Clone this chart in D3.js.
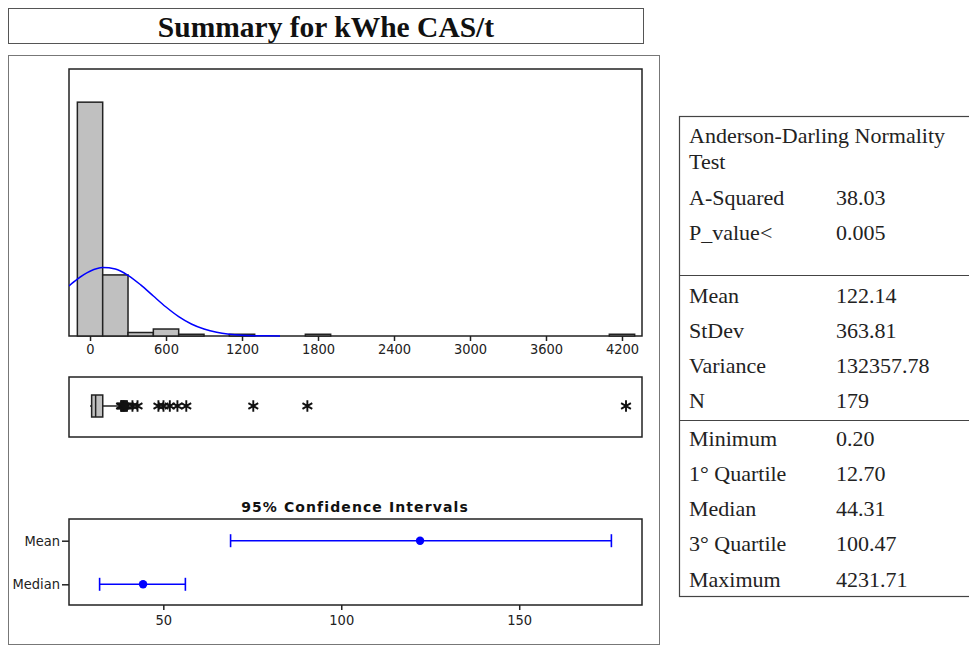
<!DOCTYPE html>
<html>
<head>
<meta charset="utf-8">
<script src="https://cdn.jsdelivr.net/npm/d3@7"></script>
<style>
  body { margin: 0; background: #fff; }
  svg { display: block; }
  .axis .tick text { font-family: 'DejaVu Sans Condensed', 'DejaVu Sans', sans-serif; font-stretch: condensed; font-size: 14.5px; fill: #222; }
  .axis .tick line { stroke: #222; stroke-width: 1.5; }
  .stats text { font-family: 'Liberation Serif', 'Times New Roman', serif; font-size: 22px; fill: #222; }
</style>
</head>
<body>
<div class="graph"></div>
<script>
// histogram: bin midpoints and counts (bin width 200)
const binMids = [0, 200, 400, 600, 800, 1000, 1200, 1400, 1600, 1800, 2000, 2200,
  2400, 2600, 2800, 3000, 3200, 3400, 3600, 3800, 4000, 4200];
const binCounts = [134, 35, 2, 4, 1, 0, 1, 0, 0, 1, 0, 0,
  0, 0, 0, 0, 0, 0, 0, 0, 0, 1];
const binWidth = 200;
const histTicks = [0, 600, 1200, 1800, 2400, 3000, 3600, 4200];

// fitted normal curve (value, count)
const fitX = [-166, -100, 0, 100, 200, 300, 400, 500, 600, 700, 800, 900, 1000, 1100, 1200, 1300, 1400, 1500];
const fitCount = [28.7, 32.6, 37.1, 39.2, 38.4, 34.8, 29.3, 22.9, 16.6, 11.1, 6.9, 4.0, 2.1, 1.06, 0.49, 0.21, 0.08, 0.03];

// boxplot: min, Q1, median, Q3, upper whisker; then outliers
const boxFive = [0.20, 12.70, 44.31, 100.47, 230];
const outliers = [245, 250, 256, 262, 268, 275, 283, 292, 335, 375,
  540, 580, 630, 690, 760, 1289, 1716, 4231.71];

// 95% confidence intervals
const ciLabels = ['Mean', 'Median'];
const ciLow = [68.9, 32.1];
const ciEst = [122.14, 44.31];
const ciHigh = [175.9, 56.2];
const ciTicks = [50, 100, 150];

// statistics table
const adLabels = ['A-Squared', 'P_value<'];
const adValues = ['38.03', '0.005'];
const momentLabels = ['Mean', 'StDev', 'Variance', 'N'];
const momentValues = ['122.14', '363.81', '132357.78', '179'];
const quantLabels = ['Minimum', '1° Quartile', 'Median', '3° Quartile', 'Maximum'];
const quantValues = ['0.20', '12.70', '44.31', '100.47', '4231.71'];

function drawSummary() {
  const w = 969;
  const h = 646;
  const hist = { left: 69, right: 642, top: 69, bottom: 336 };
  const box = { top: 377, bottom: 437, mid: 406, half: 11 };
  const ci = { top: 519, bottom: 605 };

  const svg = d3.select('.graph')
    .append('svg')
    .attr('width', w)
    .attr('height', h);

  // title box
  svg.append('rect')
    .attr('x', 8.5).attr('y', 8.5)
    .attr('width', 635).attr('height', 35)
    .attr('fill', 'none')
    .attr('stroke', '#555');

  svg.append('text')
    .attr('x', 326)
    .attr('y', 37)
    .attr('text-anchor', 'middle')
    .style('font-family', "'Liberation Serif', 'Times New Roman', serif")
    .style('font-weight', 'bold')
    .style('font-size', '29.5px')
    .style('fill', '#111')
    .text('Summary for kWhe CAS/t');

  // outer panel
  svg.append('rect')
    .attr('x', 8.5).attr('y', 55.5)
    .attr('width', 651).attr('height', 589)
    .attr('fill', 'none')
    .attr('stroke', '#777');

  // ---- histogram ----
  const xScale = d3.scaleLinear()
    .domain([-166, 4358])
    .range([hist.left, hist.right]);
  const yScale = d3.scaleLinear()
    .domain([0, 153])
    .range([hist.bottom, hist.top]);

  svg.append('defs')
    .append('clipPath')
    .attr('id', 'hist-clip')
    .append('rect')
    .attr('x', hist.left).attr('y', hist.top)
    .attr('width', hist.right - hist.left)
    .attr('height', hist.bottom - hist.top + 1);

  svg.append('g')
    .attr('class', 'axis')
    .attr('transform', `translate(0, ${hist.bottom})`)
    .call(d3.axisBottom(xScale)
      .tickValues(histTicks)
      .tickFormat(d3.format('d'))
      .tickSize(5)
      .tickPadding(3))
    .call((g) => g.select('.domain').remove());

  svg.append('rect')
    .attr('x', hist.left).attr('y', hist.top)
    .attr('width', hist.right - hist.left)
    .attr('height', hist.bottom - hist.top)
    .attr('fill', 'none')
    .attr('stroke', '#222')
    .attr('stroke-width', 1.5);

  const bins = binMids.map((m, i) => ({ mid: m, count: binCounts[i] }))
    .filter((d) => d.count > 0);

  svg.selectAll('rect.bar')
    .data(bins)
    .enter()
    .append('rect')
    .attr('class', 'bar')
    .attr('x', (d) => xScale(d.mid - binWidth / 2))
    .attr('width', (d) => xScale(d.mid + binWidth / 2) - xScale(d.mid - binWidth / 2))
    .attr('y', (d) => yScale(d.count))
    .attr('height', (d) => yScale(0) - yScale(d.count))
    .attr('fill', '#c0c0c0')
    .attr('stroke', '#222')
    .attr('stroke-width', 1.5);

  const line = d3.line()
    .x((d) => xScale(d[0]))
    .y((d) => yScale(d[1]))
    .curve(d3.curveMonotoneX);

  svg.append('path')
    .datum(fitX.map((v, i) => [v, fitCount[i]]))
    .attr('clip-path', 'url(#hist-clip)')
    .attr('d', line)
    .attr('fill', 'none')
    .attr('stroke', '#0000ff')
    .attr('stroke-width', 1.5);

  // ---- boxplot ----
  svg.append('rect')
    .attr('x', hist.left).attr('y', box.top)
    .attr('width', hist.right - hist.left)
    .attr('height', box.bottom - box.top)
    .attr('fill', 'none')
    .attr('stroke', '#222')
    .attr('stroke-width', 1.5);

  const [bMin, bQ1, bMed, bQ3, bHigh] = boxFive;
  svg.selectAll('line.whisker')
    .data([[bMin, bQ1], [bQ3, bHigh]])
    .enter()
    .append('line')
    .attr('class', 'whisker')
    .attr('x1', (d) => xScale(d[0]))
    .attr('x2', (d) => xScale(d[1]))
    .attr('y1', box.mid)
    .attr('y2', box.mid)
    .attr('stroke', '#222')
    .attr('stroke-width', 1.5);

  svg.append('rect')
    .attr('x', xScale(bQ1))
    .attr('y', box.mid - box.half)
    .attr('width', xScale(bQ3) - xScale(bQ1))
    .attr('height', box.half * 2)
    .attr('fill', '#c0c0c0')
    .attr('stroke', '#222')
    .attr('stroke-width', 1.5);

  svg.append('line')
    .attr('x1', xScale(bMed)).attr('x2', xScale(bMed))
    .attr('y1', box.mid - box.half).attr('y2', box.mid + box.half)
    .attr('stroke', '#222')
    .attr('stroke-width', 1.5);

  svg.selectAll('path.outlier')
    .data(outliers)
    .enter()
    .append('path')
    .attr('class', 'outlier')
    .attr('transform', (d) => `translate(${xScale(d)}, ${box.mid})`)
    .attr('d', d3.symbol().type(d3.symbolAsterisk).size(90))
    .attr('fill', 'none')
    .attr('stroke', '#111')
    .attr('stroke-width', 1.9);

  // ---- confidence intervals ----
  const ciX = d3.scaleLinear()
    .domain([23.5, 184.5])
    .range([hist.left, hist.right]);
  const ciY = d3.scalePoint()
    .domain(ciLabels)
    .range([540.7, 584.3]);

  svg.append('text')
    .attr('x', 355)
    .attr('y', 512)
    .attr('text-anchor', 'middle')
    .style('font-family', "'DejaVu Sans', Verdana, sans-serif")
    .style('font-weight', 'bold')
    .style('font-size', '14px')
    .style('letter-spacing', '1.1px')
    .style('fill', '#111')
    .text('95% Confidence Intervals');

  svg.append('g')
    .attr('class', 'axis')
    .attr('transform', `translate(0, ${ci.bottom})`)
    .call(d3.axisBottom(ciX)
      .tickValues(ciTicks)
      .tickSize(5)
      .tickPadding(5))
    .call((g) => g.select('.domain').remove());

  svg.append('g')
    .attr('class', 'axis')
    .attr('transform', `translate(${hist.left}, 0)`)
    .call(d3.axisLeft(ciY)
      .tickSize(7)
      .tickPadding(2))
    .call((g) => g.select('.domain').remove());

  svg.append('rect')
    .attr('x', hist.left).attr('y', ci.top)
    .attr('width', hist.right - hist.left)
    .attr('height', ci.bottom - ci.top)
    .attr('fill', 'none')
    .attr('stroke', '#222')
    .attr('stroke-width', 1.5);

  const ciData = ciLabels.map((c, i) => ({ label: c, low: ciLow[i], est: ciEst[i], high: ciHigh[i] }));
  const intervals = svg.selectAll('g.interval')
    .data(ciData)
    .enter()
    .append('g')
    .attr('class', 'interval')
    .attr('stroke', '#0000ff')
    .attr('fill', '#0000ff');

  intervals.append('line')
    .attr('x1', (d) => ciX(d.low))
    .attr('x2', (d) => ciX(d.high))
    .attr('y1', (d) => ciY(d.label))
    .attr('y2', (d) => ciY(d.label))
    .attr('stroke-width', 1.6);

  ['low', 'high'].forEach((k) => {
    intervals.append('line')
      .attr('x1', (d) => ciX(d[k]))
      .attr('x2', (d) => ciX(d[k]))
      .attr('y1', (d) => ciY(d.label) - 6.5)
      .attr('y2', (d) => ciY(d.label) + 6.5)
      .attr('stroke-width', 1.6);
  });

  intervals.append('circle')
    .attr('cx', (d) => ciX(d.est))
    .attr('cy', (d) => ciY(d.label))
    .attr('r', 4.2)
    .attr('stroke', 'none');

  // ---- statistics table ----
  const table = svg.append('g')
    .attr('class', 'stats');

  table.append('rect')
    .attr('x', 679.5).attr('y', 116.5)
    .attr('width', 320).attr('height', 480)
    .attr('fill', 'none')
    .attr('stroke', '#444')
    .attr('stroke-width', 1.2);

  table.selectAll('line.sep')
    .data([275.5, 420.5])
    .enter()
    .append('line')
    .attr('class', 'sep')
    .attr('x1', 679.5).attr('x2', 969)
    .attr('y1', (d) => d).attr('y2', (d) => d)
    .attr('stroke', '#444')
    .attr('stroke-width', 1.2);

  const labelX = 689;
  const valueX = 836;
  const step = 35.3;

  table.append('text').attr('x', labelX).attr('y', 143).text('Anderson-Darling Normality');
  table.append('text').attr('x', labelX).attr('y', 168.5).text('Test');

  const sections = [
    { labels: adLabels, values: adValues, start: 205 },
    { labels: momentLabels, values: momentValues, start: 302.5 },
    { labels: quantLabels, values: quantValues, start: 445.5 }
  ];

  sections.forEach((s) => {
    table.selectAll(null)
      .data(s.labels)
      .enter()
      .append('text')
      .attr('x', labelX)
      .attr('y', (d, i) => s.start + i * step)
      .text((d) => d);
    table.selectAll(null)
      .data(s.values)
      .enter()
      .append('text')
      .attr('x', valueX)
      .attr('y', (d, i) => s.start + i * step)
      .text((d) => d);
  });
}

drawSummary();
</script>
</body>
</html>
